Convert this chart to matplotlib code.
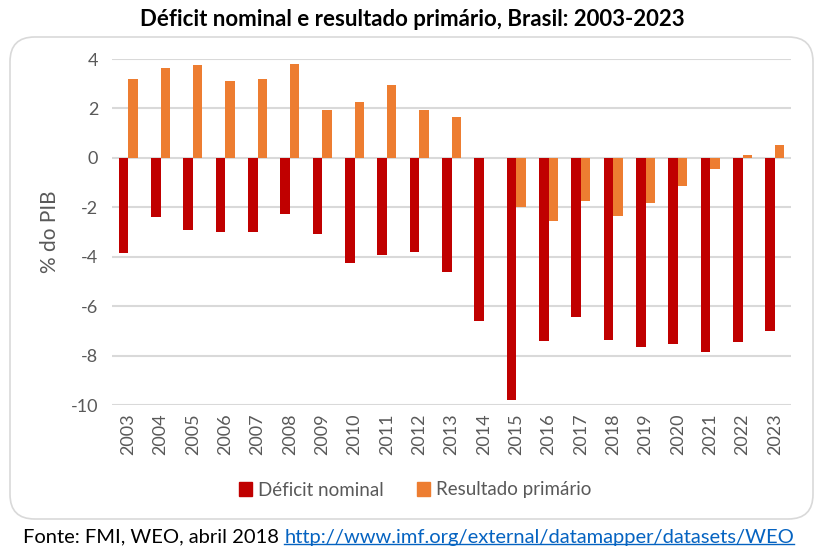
import numpy as np
import matplotlib.pyplot as plt
from matplotlib.patches import FancyBboxPatch, Patch
from matplotlib.lines import Line2D

plt.rcParams['font.family'] = ['Lato', 'DejaVu Sans']
plt.rcParams['axes.unicode_minus'] = False

anos = [str(a) for a in range(2003, 2024)]
deficit_nominal = [-3.83, -2.40, -2.90, -3.02, -2.98, -2.29, -3.10, -4.24, -3.95, -3.79,
                   -4.60, -6.59, -9.79, -7.40, -6.42, -7.35, -7.64, -7.52, -7.84, -7.44, -6.99]
resultado_primario = [3.21, 3.65, 3.74, 3.13, 3.21, 3.78, 1.92, 2.28, 2.93, 1.92,
                      1.67, None, -1.97, -2.54, -1.73, -2.34, -1.81, -1.12, -0.47, 0.13, 0.54]

vermelho = '#c00000'
laranja = '#ed7d31'
cinza = '#595959'

fig = plt.figure(figsize=(8.22, 5.53), dpi=100)

# moldura arredondada
moldura = FancyBboxPatch((10/822, 1-519/553), 803/822, 482/553,
                         boxstyle='round,pad=0,rounding_size=0.03',
                         transform=fig.transFigure, facecolor='white',
                         edgecolor='#d9d9d9', linewidth=1.2, mutation_aspect=822/553,
                         zorder=-1)
fig.patches.append(moldura)

ax = fig.add_axes([112/822, 1-405/553, 679/822, 346/553])
ax.set_facecolor('none')

x = np.arange(len(anos))
w = 0.29
prim = [np.nan if v is None else v for v in resultado_primario]
ax.bar(x - w/2, deficit_nominal, width=w, color=vermelho, zorder=3)
ax.bar(x + w/2, prim, width=w, color=laranja, zorder=3)

ax.set_xlim(-0.5, len(anos) - 0.5)
ax.set_ylim(-10, 4)
ax.set_yticks(range(-10, 5, 2))
ax.yaxis.grid(True, color='#d9d9d9', linewidth=1.5, zorder=0)
ax.set_xticks(x)
ax.set_xticklabels(anos, rotation=90)
ax.tick_params(axis='both', length=0, labelsize=13, labelcolor=cinza)
ax.tick_params(axis='x', pad=6)
ax.tick_params(axis='y', pad=10)
for s in ax.spines.values():
    s.set_visible(False)
ax.set_ylabel('% do PIB', fontsize=15, color=cinza, labelpad=8)

fig.text(412/822, 1-20/553, 'Déficit nominal e resultado primário, Brasil: 2003-2023',
         ha='center', va='center', fontsize=16, fontweight='bold')

handles = [Patch(color=vermelho), Patch(color=laranja)]
fig.legend(handles, ['Déficit nominal', 'Resultado primário'], loc='center',
           bbox_to_anchor=(415/822, 1-490/553), ncol=2, frameon=False,
           fontsize=13.5, labelcolor=cinza, handlelength=0.7, handleheight=0.7,
           handletextpad=0.3, columnspacing=1.8)

# rodapé
t1 = fig.text(23/822, 1-537/553, 'Fonte: FMI, WEO, abril 2018 ', ha='left', va='center',
              fontsize=14.5, color='black')
fig.canvas.draw()
r = fig.canvas.get_renderer()
bb = t1.get_window_extent(r)
x2 = bb.x1 / fig.bbox.width
t2 = fig.text(x2, 1-537/553, 'http://www.imf.org/external/datamapper/datasets/WEO',
              ha='left', va='center', fontsize=14.5, color='#0563c1')
bb2 = t2.get_window_extent(r)
yl = (bb2.y0 + 2) / fig.bbox.height
fig.add_artist(Line2D([bb2.x0 / fig.bbox.width, bb2.x1 / fig.bbox.width], [yl, yl],
                      transform=fig.transFigure, color='#0563c1', linewidth=1))

fig.savefig('out.png', dpi=100)
